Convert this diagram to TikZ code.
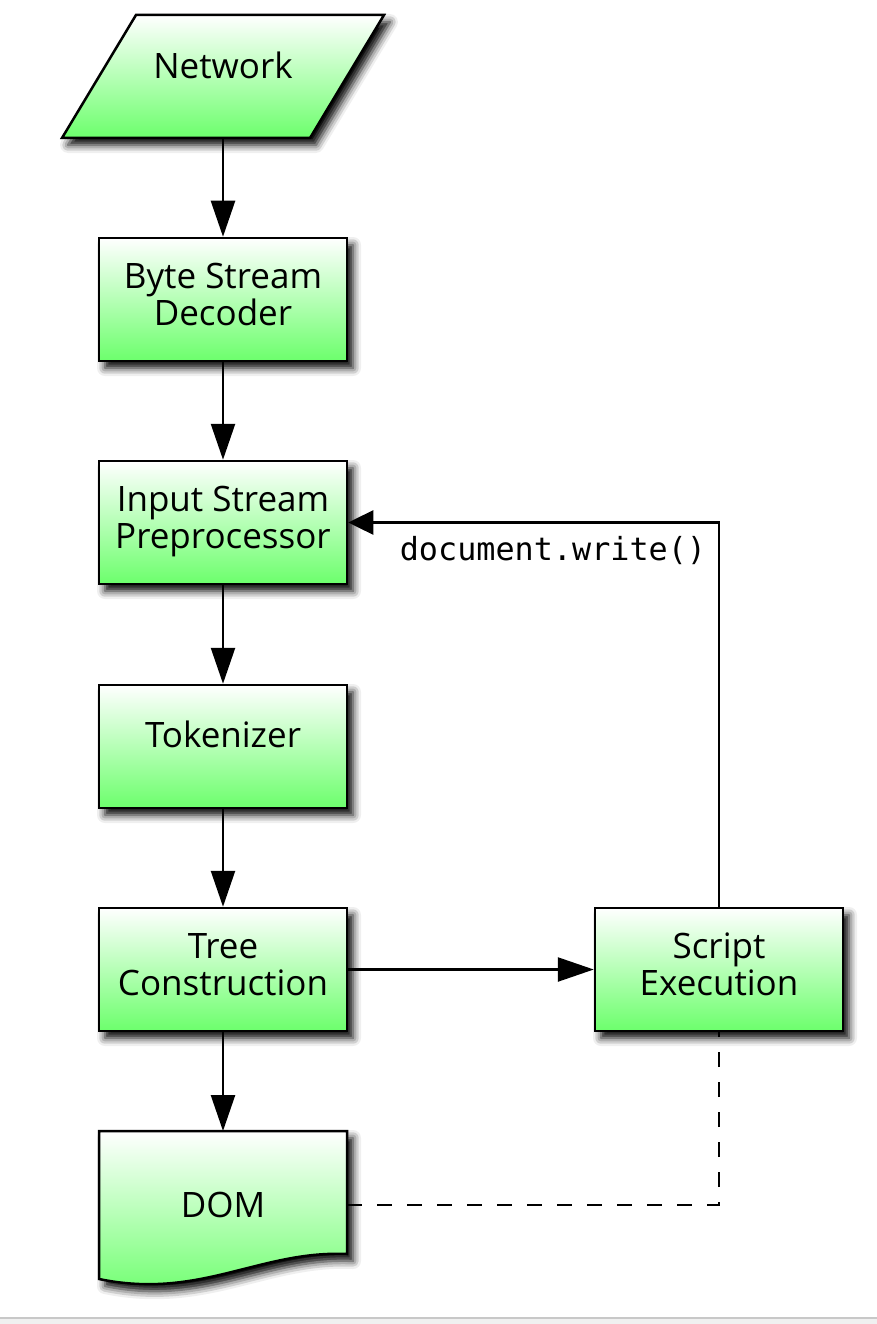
\documentclass[tikz,border=0pt]{standalone}
\usepackage{fontspec}
\setmainfont{Open Sans}
\newfontfamily\codefont{DejaVu Sans Mono}
\usetikzlibrary{arrows.meta,shadows.blur}
\definecolor{boxgreen}{RGB}{108,255,108}
\definecolor{stripgray}{RGB}{200,200,200}
\definecolor{stripfill}{RGB}{240,240,240}
\newcommand{\liftup}[2]{\raisebox{#1}{\begin{tabular}{@{}c@{}}#2\end{tabular}}}
\tikzset{
  x=1pt, y=1pt,
  boxfill/.style={top color=white, bottom color=boxgreen},
  boxshadow/.style={blur shadow={shadow xshift=6pt, shadow yshift=-7pt, shadow blur radius=8pt, shadow opacity=100}},
  boxfont/.style={font=\fontsize{35}{37}\selectfont},
  procbox/.style={draw=black, line width=2.5pt, boxfill, boxshadow, minimum width=248pt, minimum height=123pt,
    inner sep=0pt, boxfont},
  shapebox/.style={draw=black, line width=2.5pt, boxfill, boxshadow},
  flow/.style={line width=2.5pt, draw=black, -{Triangle[length=36pt, width=24pt, fill=black]}},
  flowshort/.style={line width=2.5pt, draw=black, -{Triangle[length=25pt, width=24pt, fill=black]}},
  link/.style={line width=2.5pt, draw=black, dash pattern=on 15pt off 15pt},
}
\begin{document}
\begin{tikzpicture}
\useasboundingbox (0,0) rectangle (877,-1324);
% bottom strip
\fill[stripfill] (0,-1317) rectangle (877,-1324);
\draw[stripgray, line width=2pt] (0,-1318) -- (877,-1318);

% Network parallelogram
\path[shapebox] (136,-15) -- (384,-15) -- (310,-138) -- (62,-138) -- cycle;
\node[boxfont] (net) at (223,-65) {Network};
\coordinate (netbottom) at (223,-138);

\node[procbox] (bsd) at (223,-299.5) {\liftup{6pt}{Byte Stream\\Decoder}};
\node[procbox] (isp) at (223,-522.5) {\liftup{6pt}{Input Stream\\Preprocessor}};
\node[procbox] (tok) at (223,-746.5) {\liftup{27pt}{Tokenizer}};
\node[procbox] (tree) at (223,-969.5) {\liftup{6pt}{Tree\\Construction}};
\node[procbox] (script) at (719,-969.5) {\liftup{6pt}{Script\\Execution}};

% DOM document shape
\path[shapebox]
  (99,-1131) -- (347,-1131) -- (347,-1254)
  .. controls (260,-1250) and (200,-1300) .. (99,-1279) -- cycle;
\node[boxfont] (dom) at (223,-1205) {DOM};
\coordinate (domtop) at (223,-1131);
\coordinate (domright) at (347,-1205);

\draw[flow] (netbottom) -- (bsd.north);
\draw[flow] (bsd.south) -- (isp.north);
\draw[flow] (isp.south) -- (tok.north);
\draw[flow] (tok.south) -- (tree.north);
\draw[flow] (tree.south) -- (domtop);
\draw[flow] (tree.east) -- (script.west);
\draw[flowshort] (script.north) |- (isp.east);
\node[anchor=base, font=\codefont\fontsize{31.8}{31.8}\selectfont] (dw) at (553,-560) {document.write()};
\draw[link] (domright) -| (script.south);
\end{tikzpicture}
\end{document}
